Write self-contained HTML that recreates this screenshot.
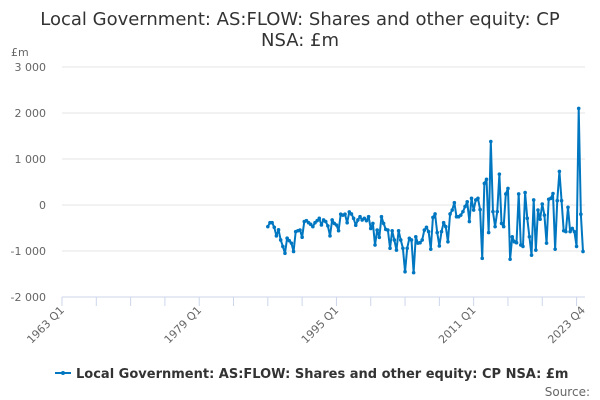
<!DOCTYPE html>
<html><head><meta charset="utf-8">
<style>
body{margin:0;background:#fff;font-family:"DejaVu Sans","Liberation Sans",sans-serif;}
svg{display:block}
</style></head><body>
<svg id="chart" width="600" height="400" xmlns="http://www.w3.org/2000/svg">
<text x="300" y="25" text-anchor="middle" font-size="18" fill="#333">Local Government: AS:FLOW: Shares and other equity: CP</text>
<text x="300" y="46" text-anchor="middle" font-size="18" fill="#333">NSA: £m</text>
<text x="11" y="56" font-size="11" fill="#666">£m</text>
<g id="grid"></g><g id="xaxis"></g><g id="series"></g>
<g>
<line x1="55" y1="373" x2="71" y2="373" stroke="#0077c0" stroke-width="2"/>
<circle cx="63" cy="373" r="2" fill="#0077c0"/>
<text x="76" y="378" font-size="13" font-weight="bold" fill="#333">Local Government: AS:FLOW: Shares and other equity: CP NSA: £m</text>
</g>
<text x="590" y="396" text-anchor="end" font-size="12" fill="#666">Source:</text>
</svg>
<script>
const yTicks=[3000,2000,1000,0,-1000,-2000];
const yTickLabels=["3 000","2 000","1 000","0","-1 000","-2 000"];
const xTickLabels=["1963 Q1","1979 Q1","1995 Q1","2011 Q1","2023 Q4"];
const xTickIndex=[0,64,128,192,243];
const startIndex=96;
const values=[-470,-385,-385,-485,-670,-540,-760,-900,-1050,-720,-775,-830,-1010,-580,-560,-545,-700,-360,-340,-385,-420,-470,-385,-340,-290,-435,-325,-360,-455,-670,-325,-400,-435,-560,-200,-220,-200,-385,-150,-195,-290,-440,-325,-255,-325,-290,-340,-255,-510,-400,-870,-545,-705,-255,-400,-530,-545,-940,-560,-760,-980,-560,-760,-940,-1450,-940,-725,-760,-1470,-690,-830,-820,-760,-545,-485,-580,-960,
-270,-195,-600,-890,-580,-385,-470,-800,-195,-110,50,-255,-255,-220,-145,-35,70,-360,145,-110,110,145,-100,-1160,470,560,-600,1380,-145,-470,-145,670,-400,-470,240,360,-1180,-690,-800,-820,240,-870,-900,270,-290,-690,-1090,110,-980,-110,-310,20,-220,-830,125,145,250,-960,95,730,95,-560,-580,-50,-580,-510,-580,-900,2100,-200,-1010];
const NS="http://www.w3.org/2000/svg";
const X0=62,X1=583,NQ=243,Y0=297,Y1=67;
const xs=i=>X0+i*(X1-X0)/NQ;
const ys=v=>Y0-(v+2000)*(Y0-Y1)/5000;
function mk(t,a,p){const e=document.createElementNS(NS,t);for(const k in a)e.setAttribute(k,a[k]);p.appendChild(e);return e;}
const grid=document.getElementById('grid');
yTicks.forEach((v,i)=>{
 if(v!==-2000){const l=mk('line',{x1:X0,x2:585,y1:ys(v),y2:ys(v),stroke:'#e6e6e6','stroke-width':1},grid);
 
 }
 const t=mk('text',{x:46,y:ys(v)+4,'text-anchor':'end','font-size':11,fill:'#666'},grid);
 t.textContent=yTickLabels[i];
 
 
});
const xa=document.getElementById('xaxis');
const axl=mk('line',{x1:X0,x2:585,y1:Y0,y2:Y0,stroke:'#ccd6eb','stroke-width':1},xa);


for(let q=0;q<=NQ;q+=16){const tk=mk('line',{x1:xs(q),x2:xs(q),y1:Y0,y2:Y0+9,stroke:'#ccd6eb'},xa);
 
 }
xTickLabels.forEach((s,i)=>{
 const x=xs(xTickIndex[i]);
 const t=mk('text',{x:x,y:312,'text-anchor':'end','font-size':11,fill:'#666',transform:`rotate(-45 ${x} 308)`},xa);
 t.textContent=s;
 
 
});
const sg=document.getElementById('series');
const pts=values.map((v,i)=>xs(startIndex+i).toFixed(2)+','+ys(v).toFixed(2)).join(' ');
const pl=mk('polyline',{points:pts,fill:'none',stroke:'#0077c0','stroke-width':2,'stroke-linejoin':'round'},sg);


values.forEach((v,i)=>{const c=mk('circle',{cx:xs(startIndex+i),cy:ys(v),r:1.8,fill:'#0077c0'},sg);
 
 });
</script>
</body></html>
